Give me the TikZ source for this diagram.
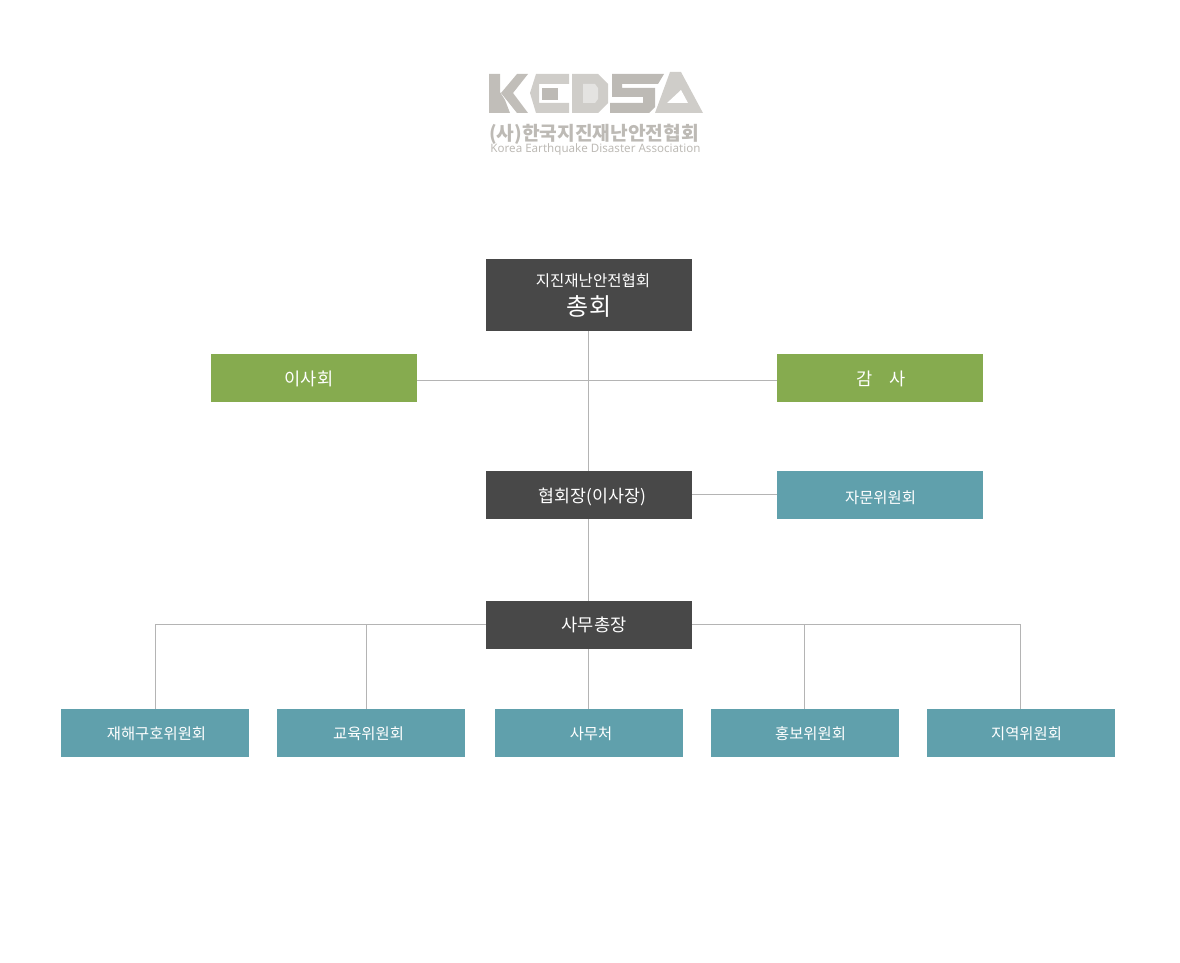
\documentclass[tikz,border=0pt]{standalone}
\usepackage{fontspec}
\setmainfont{Noto Sans CJK KR}
\newfontfamily\latinfont{Noto Sans}
\definecolor{darkbox}{HTML}{484848}
\definecolor{greenbox}{HTML}{86AB4F}
\definecolor{tealbox}{HTML}{60A0AC}
\definecolor{linegray}{HTML}{B4B4B4}
\definecolor{logoa}{HTML}{BDBAB5}
\definecolor{logob}{HTML}{CFCDC9}
\definecolor{logoc}{HTML}{E4E3E1}
\begin{document}
\begin{tikzpicture}[
                x=1pt, y=-1pt,
                every node/.style={inner sep=0pt, text=white, font=\fontsize{17.6}{22}\selectfont},
                widebox/.style={minimum width=206pt, minimum height=48pt, text height=14.4pt, text depth=0pt},
                smallbox/.style={minimum width=188pt, minimum height=48pt, fill=tealbox, text height=12.8pt, text depth=0pt, font=\fontsize{15.4}{18}\selectfont},
                link/.style={draw=linegray, line width=1pt},
            ]
            \useasboundingbox (0,0) rectangle (1180,963);
            \fill[logoa!80!logob] (489,74) -- (500,74) -- (500,92) -- (505,100) -- (510,113) -- (489,113) -- cycle;
            \fill[logoa!80!logob] (517,74) -- (528,74) -- (513,93) -- (528,113) -- (517,113) -- (501,93) -- cycle;
            \fill[logob] (536,74) -- (569,74) -- (569,84) -- (539,84) -- (539,103) -- (569,103) -- (569,113) -- (536,113) -- (530,93) -- cycle;
            \fill[logoa] (542,88) -- (558,88) -- (558,100) -- (542,100) -- cycle;
            \fill[logob] (572,74) -- (598,74) -- (608,84) -- (608,103) -- (598,113) -- (572,113) -- cycle;
            \fill[logoc] (583,84) -- (595,84) -- (598,88) -- (598,99) -- (595,103) -- (583,103) -- cycle;
            \fill[logoa] (612,74) -- (664,74) -- (658,84) -- (622,84) -- (622,88) -- (655,88) -- (655,107) -- (649,113) -- (610,113) -- (610,103) -- (643,103) -- (643,97) -- (612,97) -- cycle;
            \fill[logob] (670,72) -- (681,72) -- (703,113) -- (655,113) -- cycle;
            \fill[white] (667,103) -- (681,90) -- (688,103) -- cycle;
            \node (logoname) at (594,134.5) [text=logoa, font=\fontsize{19.2}{22}\bfseries\selectfont] {(사)한국지진재난안전협회};
            \node (logoeng) at (595.5,149.5) [text=logoa, font=\latinfont\fontsize{11.6}{14}\selectfont] {Korea Earthquake Disaster Association};

            \node (assembly) at (589,295) [minimum width=206pt, minimum height=72pt, fill=darkbox, align=center] {\fontsize{15.5}{18}\selectfont\hspace*{8pt}지진재난안전협회\\[7pt]\fontsize{24}{26}\selectfont 총회};
            \node (board) at (314,378) [widebox, fill=greenbox] {\kern-10pt 이사회};
            \node (audit) at (880,378) [widebox, fill=greenbox] {\kern2pt 감\hspace{16pt}사};
            \node (president) at (589,495) [widebox, fill=darkbox, font=\fontsize{17.3}{22}\selectfont] {\kern7pt 협회장(이사장)};
            \node (advisory) at (880,495) [widebox, fill=tealbox, text height=17.6pt, font=\fontsize{15.4}{18}\selectfont] {\kern1pt 자문위원회};
            \node (secretary) at (589,625) [widebox, fill=darkbox, text height=13pt] {\kern10pt 사무총장};
            \node (relief) at (155,733) [smallbox] {\kern3pt 재해구호위원회};
            \node (education) at (371,733) [smallbox] {\kern-5pt 교육위원회};
            \node (office) at (589,733) [smallbox] {\kern4pt 사무처};
            \node (promotion) at (805,733) [smallbox] {\kern11pt 홍보위원회};
            \node (region) at (1021,733) [smallbox] {\kern11pt 지역위원회};

            \coordinate (trunk) at (588.5,380.5);
            \coordinate (advisoryline) at (692,494.5);
            \coordinate (busline) at (588.5,624.5);
            \coordinate (educationdrop) at (366.5,624.5);
            \coordinate (promotiondrop) at (804.5,624.5);
            \coordinate (regiondrop) at (1020.5,624.5);
            \coordinate (reliefdrop) at (155.5,624.5);
            \draw[link] (trunk |- assembly.south) -- (trunk |- president.north);
            \draw[link] (board.east |- trunk) -- (audit.west |- trunk);
            \draw[link] (trunk |- president.south) -- (trunk |- secretary.north);
            \draw[link] (advisoryline) -- (advisory.west |- advisoryline);
            \draw[link] (trunk |- secretary.south) -- (trunk |- office.north);
            \draw[link] (secretary.west |- busline) -- (reliefdrop) -- (reliefdrop |- relief.north);
            \draw[link] (educationdrop) -- (educationdrop |- education.north);
            \draw[link] (secretary.east |- busline) -- (regiondrop) -- (regiondrop |- region.north);
            \draw[link] (promotiondrop) -- (promotiondrop |- promotion.north);
            \end{tikzpicture}
\end{document}
